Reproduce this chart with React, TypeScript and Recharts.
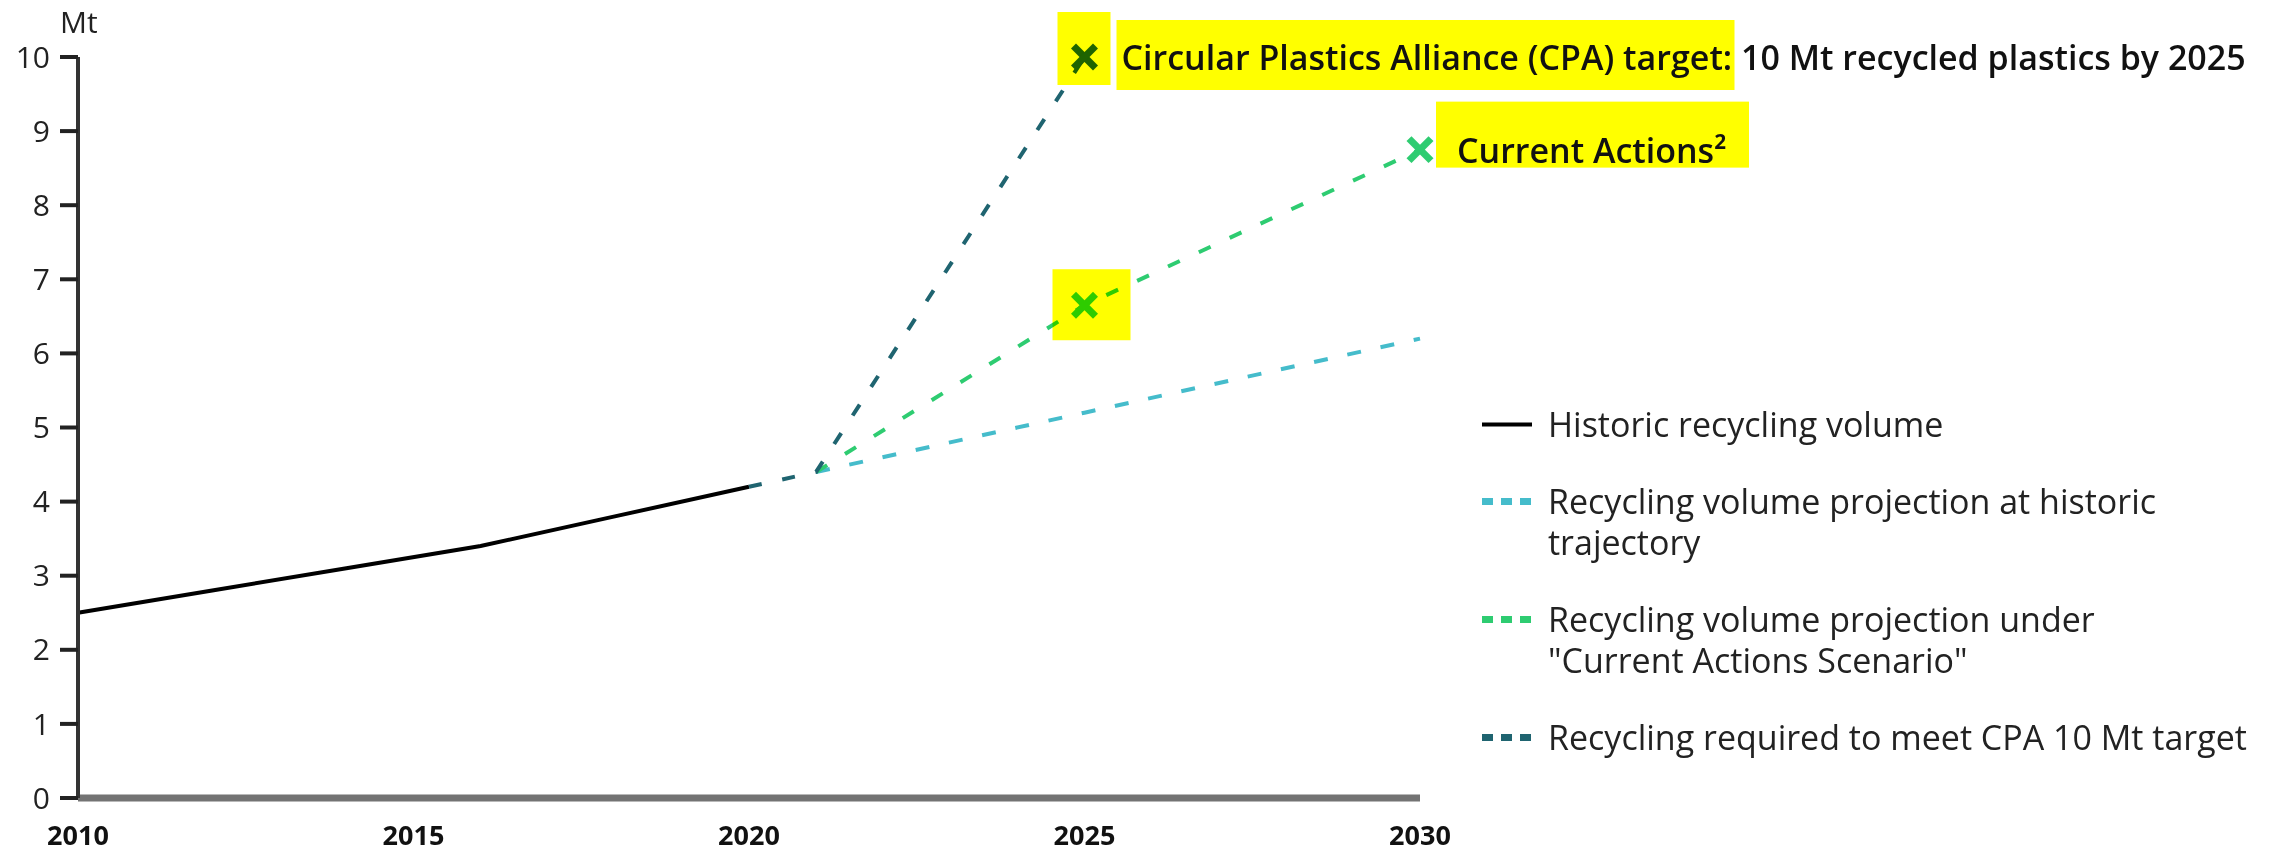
import { LineChart, Line, XAxis, YAxis, Legend, Label } from "recharts";

const FONT = "'Open Sans', sans-serif";

const years = [2010, 2012, 2014, 2016, 2018, 2020, 2021, 2025, 2030];
const historic = [2.5, 2.8, 3.1, 3.4, 3.8, 4.2, null, null, null];
const trajectory = [null, null, null, null, null, null, 4.4, 5.2, 6.2];
const currentActions = [null, null, null, null, null, null, 4.4, 6.65, 8.75];
const cpaRequired = [null, null, null, null, null, 4.2, 4.4, 10, null];

const xTicks = [2010, 2015, 2020, 2025, 2030];
const yTicks = [0, 1, 2, 3, 4, 5, 6, 7, 8, 9, 10];

const seriesNames = [
  "Historic recycling volume",
  "Recycling volume projection at historic\ntrajectory",
  "Recycling volume projection under\n\"Current Actions Scenario\"",
  "Recycling required to meet CPA 10 Mt target",
];
const seriesColors = ["#000000", "#45bccb", "#2ecc71", "#1f6470"];

const currentMarkers = [2025, 2030];
const cpaMarkers = [2025];

const cpaText = "Circular Plastics Alliance (CPA) target: 10 Mt recycled plastics by 2025";
const currentText = "Current Actions\u00b2";

const data = years.map((year, i) => ({
  year,
  historic: historic[i],
  trajectory: trajectory[i],
  current: currentActions[i],
  cpa: cpaRequired[i],
}));

const highlight = { fill: "#ffff00", style: { mixBlendMode: "multiply" as const } };

function crossDot(markers: number[], color: string) {
  return (props: any) => {
    const { cx, cy, payload, index } = props;
    if (!payload || !markers.includes(payload.year) || cx == null || cy == null) {
      return <g key={`n-${index}`} />;
    }
    const s = 11;
    return (
      <g key={`x-${index}`}>
        <line x1={cx - s} y1={cy - s} x2={cx + s} y2={cy + s} stroke={color} strokeWidth={7} />
        <line x1={cx - s} y1={cy + s} x2={cx + s} y2={cy - s} stroke={color} strokeWidth={7} />
      </g>
    );
  };
}

const cpaLabel = (props: any) => {
  const { x, y, index } = props;
  if (years[index] !== 2025) return null;
  return (
    <g>
      <rect x={x - 27} y={y - 45} width={53} height={73} {...highlight} />
      <rect x={x + 32} y={y - 37} width={618} height={70} {...highlight} />
      <text x={x + 37} y={y} dominantBaseline="central" fontFamily={FONT} fontSize={34} fontWeight={600} fill="#111">
        {cpaText}
      </text>
    </g>
  );
};

const currentLabel = (props: any) => {
  const { x, y, index } = props;
  if (years[index] === 2025) {
    return <rect x={x - 32} y={y - 36} width={78} height={71} {...highlight} />;
  }
  if (years[index] === 2030) {
    return (
      <g>
        <rect x={x + 16} y={y - 48} width={313} height={66} {...highlight} />
        <text x={x + 37} y={y} dominantBaseline="central" fontFamily={FONT} fontSize={34} fontWeight={600} fill="#111">
          {currentText}
        </text>
      </g>
    );
  }
  return null;
};

const renderLegend = (props: any) => {
  const items = props.payload ?? [];
  return (
    <div style={{ fontFamily: FONT, fontSize: 34, color: "#222" }}>
      {items.map((entry: any, i: number) => {
        const dashed = entry.color !== seriesColors[0];
        return (
          <div key={i} style={{ display: "flex", alignItems: "flex-start", lineHeight: "41px", marginBottom: 36 }}>
            <svg width={50} height={41} style={{ flex: "none", marginRight: 16 }}>
              <line
                x1={0}
                x2={50}
                y1={20.5}
                y2={20.5}
                stroke={entry.color}
                strokeWidth={dashed ? 7 : 4}
                strokeDasharray={dashed ? "11 8" : undefined}
              />
            </svg>
            <span style={{ whiteSpace: "pre-line" }}>{entry.value}</span>
          </div>
        );
      })}
    </div>
  );
};

export default function App() {
  return (
    <div style={{ position: "absolute", left: 0, top: 0, background: "#fff" }}>
      <LineChart
        width={2272}
        height={854}
        data={data}
        margin={{ top: 57, right: 852, bottom: 0, left: 0 }}
      >
        <XAxis
          dataKey="year"
          type="number"
          domain={[2010, 2030]}
          ticks={xTicks}
          height={56}
          tickLine={false}
          tickSize={0}
          tickMargin={28}
          axisLine={{ stroke: "#737373", strokeWidth: 7 }}
          tick={{ fontSize: 27, fontWeight: 700, fill: "#111", fontFamily: FONT }}
        />
        <YAxis
          type="number"
          domain={[0, 10]}
          ticks={yTicks}
          width={78}
          tickSize={18}
          tickMargin={10}
          axisLine={{ stroke: "#333", strokeWidth: 4 }}
          tickLine={{ stroke: "#222", strokeWidth: 4 }}
          tick={{ fontSize: 30, fill: "#222", fontFamily: FONT }}
        >
          <Label
            content={(p: any) => {
              const vb = p.viewBox || { x: 0, y: 57, width: 78 };
              return (
                <text x={vb.x + vb.width - 18} y={vb.y - 36} dominantBaseline="central" fontFamily={FONT} fontSize={30} fill="#222">
                  Mt
                </text>
              );
            }}
          />
        </YAxis>
        <Legend
          layout="horizontal"
          align="center"
          verticalAlign="middle"
          itemSorter={(item: any) => seriesNames.indexOf(item.value)}
          wrapperStyle={{ left: 1482, top: 404, width: 780 }}
          content={renderLegend}
        />
        <Line
          dataKey="historic"
          name={seriesNames[0]}
          stroke={seriesColors[0]}
          strokeWidth={4}
          dot={false}
          activeDot={false}
          isAnimationActive={false}
        />
        <Line
          dataKey="trajectory"
          name={seriesNames[1]}
          stroke={seriesColors[1]}
          strokeWidth={4}
          strokeDasharray="14 20"
          dot={false}
          activeDot={false}
          isAnimationActive={false}
        />
        <Line
          dataKey="current"
          name={seriesNames[2]}
          stroke={seriesColors[2]}
          strokeWidth={4}
          strokeDasharray="13 21"
          dot={crossDot(currentMarkers, seriesColors[2])}
          activeDot={false}
          label={currentLabel}
          isAnimationActive={false}
        />
        <Line
          dataKey="cpa"
          name={seriesNames[3]}
          stroke={seriesColors[3]}
          strokeWidth={4}
          strokeDasharray="13 21"
          dot={crossDot(cpaMarkers, seriesColors[3])}
          activeDot={false}
          label={cpaLabel}
          isAnimationActive={false}
        />
      </LineChart>
    </div>
  );
}
